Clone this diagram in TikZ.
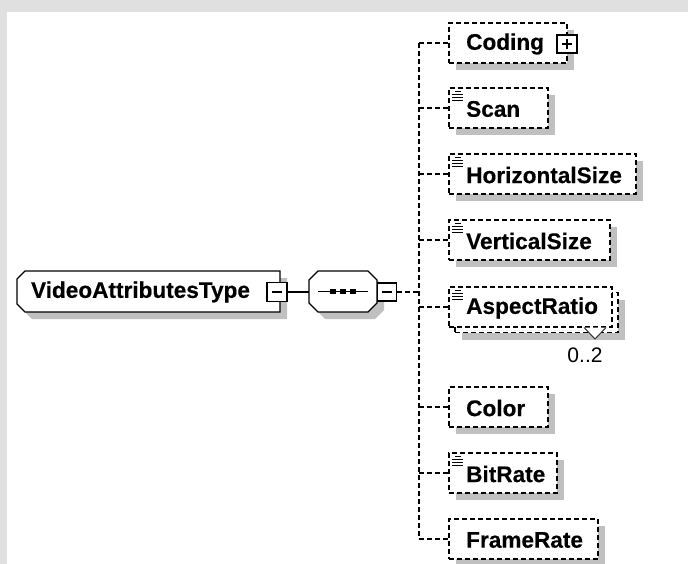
\documentclass[tikz,border=0pt]{standalone}
\usepackage{fontspec}
\setmainfont{Liberation Sans}
\newfontfamily\boldlbl[FakeBold=0.35]{Liberation Sans Bold}
\usetikzlibrary{shadows}
\definecolor{framegray}{RGB}{224,224,224}
\definecolor{shadowgray}{RGB}{192,192,192}
\tikzset{
  dashline/.style={line width=1.5pt, dash pattern=on 5pt off 3pt},
  shadowed/.style={drop shadow={shadow xshift=7pt, shadow yshift=-7pt, fill=shadowgray, opacity=1, draw=none}},
  childbox/.style={draw, dashline, fill=white, rectangle, minimum height=40pt, inner sep=0pt, shadowed},
  lbl/.style={font=\fontsize{22.6}{26}\boldlbl, inner sep=0pt},
  smalllbl/.style={font=\fontsize{21}{24}\selectfont, inner sep=0pt},
  pmbox/.style={draw, line width=1.4pt, fill=white, minimum width=20pt, minimum height=19pt, inner sep=0pt},
  solidline/.style={line width=1.4pt},
  iconline/.style={line width=1.1pt},
  anchorbox/.style={rectangle, inner sep=0pt},
}
\newcommand{\simpicon}[1]{%
  \begin{scope}[shift={(#1.north west)}]
    \draw[iconline] (7,4) -- (13,4) (4,7) -- (15,7) (4,10) -- (15,10) (4,13) -- (15,13);
  \end{scope}}
\begin{document}
\begin{tikzpicture}[x=1pt,y=-1pt]
  \useasboundingbox (0,0) rectangle (688,564);
  \fill[framegray] (0,0) rectangle (688,564);
  \fill[white] (7,12) rectangle (688,564);

  % main complex type
  \node[anchorbox, minimum width=263pt, minimum height=41pt] (main) at (148.5,291.5) {};
  \fill[shadowgray] (32,278) -- (287,278) -- (287,319) -- (32,319) -- (24,311) -- (24,286) -- cycle;
  \filldraw[fill=white, solidline] (25,271) -- (280,271) -- (280,312) -- (25,312) -- (17,304) -- (17,279) -- cycle;
  \node[lbl] (maintext) at (140.5,292) {VideoAttributesType};
  \node[pmbox] (mminus) at (277,292) {};
  \draw[solidline] ([xshift=-5pt]mminus.center) -- ([xshift=5pt]mminus.center);

  % sequence compositor
  \node[anchorbox, minimum width=68pt, minimum height=41pt] (seq) at (343,291.5) {};
  \fill[shadowgray] (325,278) -- (375,278) -- (384,287) -- (384,310) -- (375,319) -- (325,319) -- (316,310) -- (316,287) -- cycle;
  \filldraw[fill=white, solidline] (318,271) -- (368,271) -- (377,280) -- (377,303) -- (368,312) -- (318,312) -- (309,303) -- (309,280) -- cycle;
  \draw[solidline] ([xshift=-25pt]seq.center) -- ([xshift=25pt]seq.center);
  \foreach \dx in {-10,0,10} \fill ([xshift=\dx pt]seq.center) +(-2.7,-2.7) rectangle +(2.7,2.7);
  \node[pmbox, minimum height=18pt, minimum width=19pt] (sminus) at (387,292) {};
  \draw[solidline] ([xshift=-5pt]sminus.center) -- ([xshift=5pt]sminus.center);
  \draw[solidline] (mminus.east) -- (seq.west |- mminus.east);

  % children
  \node[childbox, minimum width=118pt] (c1) at (508,43) {};
  \node[lbl, anchor=west] (c1t) at (466,44) {Coding};
  \node[pmbox, minimum height=18pt] (c1plus) at (567,44) {};
  \draw[solidline] ([xshift=-5pt]c1plus.center) -- ([xshift=5pt]c1plus.center)
                   ([yshift=-5pt]c1plus.center) -- ([yshift=5pt]c1plus.center);

  \node[childbox, minimum width=99pt] (c2) at (498.5,108) {};
  \node[lbl, anchor=west] (c2t) at (466,109) {Scan};
  \simpicon{c2}

  \node[childbox, minimum width=187pt] (c3) at (542.5,174) {};
  \node[lbl, anchor=west] (c3t) at (466,175) {HorizontalSize};
  \simpicon{c3}

  \node[childbox, minimum width=161pt] (c4) at (529.5,240) {};
  \node[lbl, anchor=west] (c4t) at (466,241) {VerticalSize};
  \simpicon{c4}

  \node[childbox, minimum width=163pt] (c5b) at (536.5,312.5) {};
  \node[draw, dashline, fill=white, rectangle, minimum height=40pt, minimum width=163pt, inner sep=0pt] (c5) at (530.5,307) {};
  \node[lbl, anchor=west] (c5t) at (466,308) {AspectRatio};
  \simpicon{c5}
  \filldraw[line width=1pt, fill=white, draw=black!80] (584,327.5) -- (595,339) -- (606,327.5);
  \node[smalllbl] (c5m) at (585,355) {0..2};

  \node[childbox, minimum width=99pt] (c6) at (498.5,407) {};
  \node[lbl, anchor=west] (c6t) at (466,408) {Color};

  \node[childbox, minimum width=108pt] (c7) at (503,473) {};
  \node[lbl, anchor=west] (c7t) at (466,474) {BitRate};
  \simpicon{c7}

  \node[childbox, minimum width=149pt] (c8) at (523.5,539) {};
  \node[lbl, anchor=west] (c8t) at (466,540) {FrameRate};

  % connectors
  \coordinate (spine) at (419,0);
  \draw[dashline] (sminus.east) -- (sminus.east -| spine);
  \draw[dashline] (c1.west -| spine) -- (c8.west -| spine);
  \foreach \c in {c1,c2,c3,c4,c5,c6,c7,c8}
    \draw[dashline] (\c.west -| spine) -- (\c.west);
\end{tikzpicture}
\end{document}
